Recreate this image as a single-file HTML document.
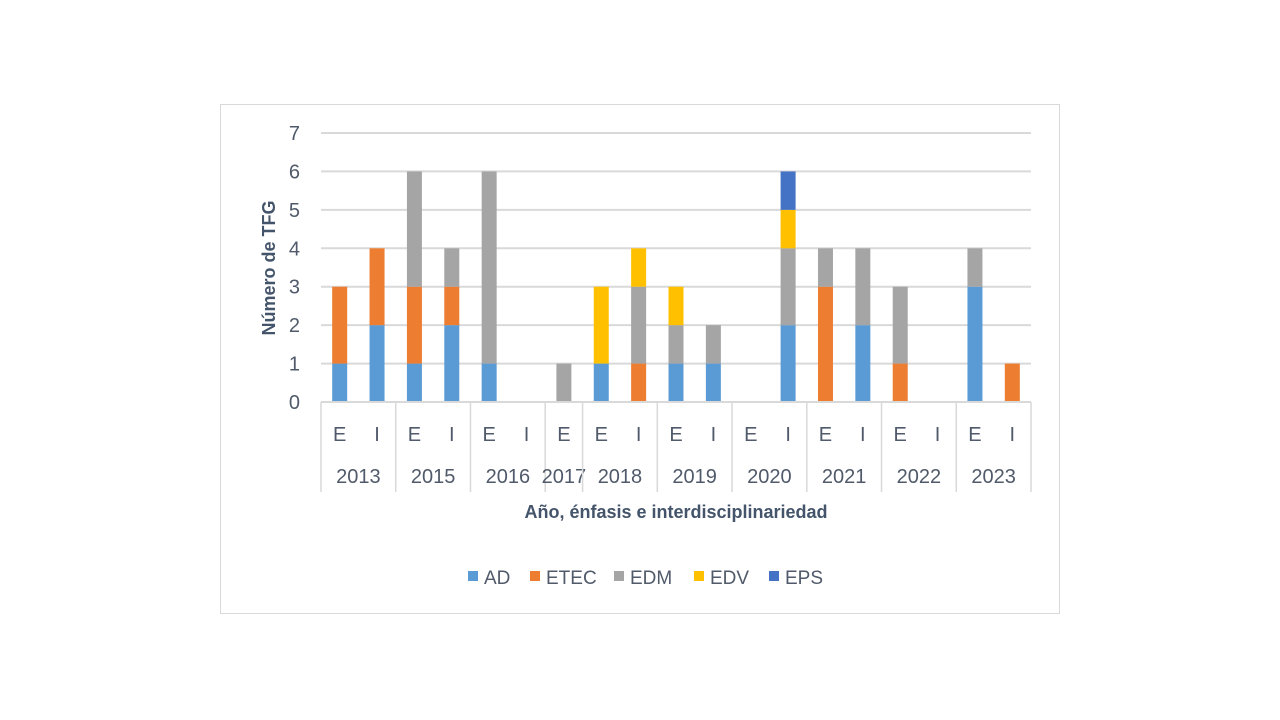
<!DOCTYPE html>
<html><head><meta charset="utf-8"><style>
body{margin:0;background:#fff;font-family:"Liberation Sans",sans-serif;}
svg{display:block}
text{font-family:"Liberation Sans",sans-serif;}
</style></head><body>
<svg id="chart" width="1280" height="720">
<rect x="220.5" y="104.5" width="839" height="509" fill="#fff" stroke="#d9d9d9"/>
<g id="grid"></g><g id="bars"></g><g id="xaxis"></g>
<text x="275" y="268" transform="rotate(-90 275 268)" text-anchor="middle" font-size="18" font-weight="bold" fill="#44546a">Número de TFG</text>
<text x="676" y="518" text-anchor="middle" font-size="18" font-weight="bold" fill="#44546a">Año, énfasis e interdisciplinariedad</text>
<g id="legend"></g>
</svg>
<script>
const years=["2013","2015","2016","2017","2018","2019","2020","2021","2022","2023"];
const subs=[["E","I"],["E","I"],["E","I"],["E"],["E","I"],["E","I"],["E","I"],["E","I"],["E","I"],["E","I"]];
const seriesNames=["AD","ETEC","EDM","EDV","EPS"];
const AD  =[1,2,1,2,1,0,0,1,0,1,1,0,2,0,2,0,0,3,0];
const ETEC=[2,2,2,1,0,0,0,0,1,0,0,0,0,3,0,1,0,0,1];
const EDM =[0,0,3,1,5,0,1,0,2,1,1,0,2,1,2,2,0,1,0];
const EDV =[0,0,0,0,0,0,0,2,1,1,0,0,1,0,0,0,0,0,0];
const EPS =[0,0,0,0,0,0,0,0,0,0,0,0,1,0,0,0,0,0,0];
const yTicks=[0,1,2,3,4,5,6,7];
const colors=["#5b9bd5","#ed7d31","#a5a5a5","#ffc000","#4472c4"];
const series=[AD,ETEC,EDM,EDV,EPS];
const NS="http://www.w3.org/2000/svg";
const x0=321,x1=1031,y0=402,yTop=133,yMax=7;
const n=AD.length,slot=(x1-x0)/n;
const Y=v=>y0-(y0-yTop)*v/yMax;
const X=i=>x0+slot*(i+0.5);
const txtCol='#505a6a';
function mk(t,a,p){const e=document.createElementNS(NS,t);for(const k in a)e.setAttribute(k,a[k]);p.appendChild(e);return e;}
const grid=document.getElementById('grid');
yTicks.forEach(t=>{
 if(t>0){const l=mk('line',{x1:x0,x2:x1,y1:Y(t),y2:Y(t),stroke:'#d9d9d9','stroke-width':2},grid);
 
 }
 const tx=mk('text',{x:300,y:Y(t)+7,'text-anchor':'end','font-size':20,fill:txtCol},grid);
 tx.textContent=t;
 
 
});
const bars=document.getElementById('bars');
for(let i=0;i<n;i++){let acc=0;
 series.forEach((s,k)=>{const v=s[i];if(!v)return;
  const r=mk('rect',{x:X(i)-7.5,width:15,y:Y(acc+v),height:Y(acc)-Y(acc+v),fill:colors[k]},bars);
  
  
  acc+=v;});}
const xa=document.getElementById('xaxis');
const al=mk('line',{x1:x0,x2:x1,y1:y0,y2:y0,stroke:'#d9d9d9','stroke-width':2},xa);


let idx=0;
function vline(x){const l=mk('line',{x1:x,x2:x,y1:y0,y2:492,stroke:'#d9d9d9','stroke-width':1.5},xa);
 
 }
vline(x0);
years.forEach((yr,g)=>{const start=idx;
 subs[g].forEach(s=>{const t=mk('text',{x:X(idx),y:441,'text-anchor':'middle','font-size':20,fill:txtCol},xa);
  t.textContent=s;
  
  idx++;});
 const cx=(x0+slot*start+x0+slot*idx)/2;
 const t=mk('text',{x:cx,y:483,'text-anchor':'middle','font-size':20,fill:txtCol},xa);
 t.textContent=yr;
 
 
 vline(x0+slot*idx);
});
const lg=document.getElementById('legend');
const lx=[468,530,614,694,769];
seriesNames.forEach((nm,k)=>{
 const r=mk('rect',{x:lx[k],y:571,width:10,height:10,fill:colors[k]},lg);
 
 
 const t=mk('text',{x:lx[k]+16,y:584,'font-size':19,fill:txtCol},lg);
 t.textContent=nm;
 
 
});
</script>
</body></html>
